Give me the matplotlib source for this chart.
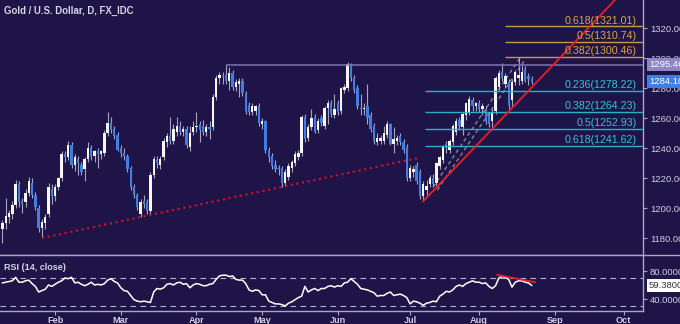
import numpy as np
import pandas as pd
import matplotlib
matplotlib.use("Agg")
import matplotlib.pyplot as plt
from matplotlib.lines import Line2D

plt.rcParams["font.family"] = ["Liberation Sans", "DejaVu Sans"]

# XAU/USD daily candles, one per weekday from 10 Jan 2017
opens = [1186, 1190, 1194, 1196, 1202, 1216, 1205, 1204, 1210, 1217, 1209, 1200, 1187, 1190, 1196, 1213,
         1208, 1214, 1220, 1236, 1234, 1242, 1229, 1233, 1229, 1226, 1233, 1240, 1235, 1238, 1236, 1237,
         1250, 1257, 1253, 1249, 1240, 1237, 1235, 1227, 1214, 1209, 1196, 1205, 1204, 1198, 1222, 1232,
         1229, 1234, 1244, 1248, 1245, 1251, 1255, 1251, 1253, 1241, 1251, 1254, 1256, 1255, 1251, 1254,
         1254, 1274, 1287, 1289, 1289, 1285, 1290, 1281, 1283, 1285, 1277, 1269, 1264, 1265, 1268, 1256,
         1258, 1239, 1235, 1229, 1227, 1227, 1217, 1221, 1227, 1230, 1234, 1237, 1261, 1247, 1254, 1261,
         1252, 1260, 1255, 1267, 1270, 1262, 1270, 1265, 1279, 1280, 1295, 1287, 1280, 1267, 1266, 1268,
         1262, 1255, 1244, 1245, 1245, 1249, 1256, 1243, 1245, 1248, 1244, 1241, 1220, 1224, 1229, 1224,
         1208, 1212, 1216, 1220, 1217, 1228, 1232, 1243, 1239, 1244, 1251, 1259, 1254, 1262, 1264, 1272,
         1268, 1270, 1266, 1266, 1262, 1258, 1265, 1281, 1291, 1283, 1284, 1272, 1284, 1287, 1285, 1293,
         1288, 1286]
highs = [1192, 1207, 1199, 1205, 1219, 1218, 1207, 1213, 1221, 1220, 1211, 1202, 1193, 1196, 1217, 1216,
         1216, 1221, 1238, 1238, 1245, 1244, 1236, 1235, 1231, 1234, 1244, 1242, 1239, 1240, 1239, 1252,
         1264, 1261, 1255, 1251, 1242, 1240, 1236, 1228, 1216, 1210, 1206, 1209, 1206, 1224, 1235, 1235,
         1235, 1247, 1250, 1261, 1256, 1261, 1258, 1255, 1255, 1255, 1258, 1264, 1258, 1259, 1256, 1258,
         1276, 1289, 1291, 1291, 1295.5, 1294, 1292, 1286, 1287, 1287, 1278, 1271, 1270, 1269, 1270, 1260,
         1259, 1241, 1237, 1232, 1229, 1228, 1226, 1230, 1232, 1238, 1239, 1262, 1263, 1256, 1266, 1263,
         1260, 1262, 1268, 1272, 1272, 1276, 1272, 1281, 1283, 1297.5, 1297, 1289, 1282, 1276, 1270, 1283,
         1264, 1257, 1250, 1249, 1255, 1258, 1257, 1254, 1249, 1250, 1246, 1243, 1229, 1228, 1231, 1226,
         1218, 1219, 1222, 1223, 1231, 1235, 1242, 1245, 1246, 1256, 1260, 1261, 1264, 1271, 1275, 1274,
         1271, 1272, 1270, 1268, 1264, 1266, 1288, 1292, 1297, 1290, 1286, 1286, 1292, 1300.46, 1296, 1295,
         1290, 1288]
lows = [1177, 1186, 1190, 1193, 1200, 1201, 1197, 1201, 1208, 1207, 1199, 1184, 1180, 1186, 1194, 1203,
        1205, 1212, 1218, 1231, 1232, 1227, 1225, 1222, 1222, 1218, 1231, 1232, 1231, 1227, 1233, 1235,
        1248, 1250, 1246, 1238, 1234, 1232, 1224, 1212, 1207, 1199, 1194, 1200, 1196, 1196, 1220, 1227,
        1226, 1232, 1241, 1243, 1243, 1248, 1249, 1248, 1240, 1238, 1249, 1251, 1244, 1249, 1248, 1246,
        1252, 1272, 1283, 1283, 1283, 1279, 1279, 1278, 1274, 1275, 1263, 1262, 1262, 1262, 1255, 1253,
        1237, 1231, 1226, 1224, 1222, 1214, 1215, 1219, 1224, 1228, 1232, 1235, 1244, 1245, 1252, 1250,
        1250, 1255, 1253, 1256, 1261, 1260, 1262, 1263, 1277, 1278, 1285, 1277, 1266, 1262, 1262, 1256,
        1251, 1243, 1242, 1243, 1243, 1247, 1242, 1237, 1242, 1242, 1237, 1218, 1218, 1221, 1216, 1206,
        1204.5, 1209, 1214, 1214, 1215, 1226, 1230, 1237, 1237, 1242, 1249, 1252, 1249, 1259, 1262, 1265,
        1265, 1264, 1262, 1256, 1254, 1252, 1263, 1279, 1285, 1280, 1266, 1268, 1282, 1282, 1283, 1284,
        1282, 1283]
closes = [1190, 1195, 1197, 1202, 1216, 1204, 1203, 1210, 1218, 1209, 1201, 1187, 1191, 1194, 1214, 1208,
          1214, 1220, 1236, 1234, 1242, 1229, 1234, 1230, 1224, 1233, 1240, 1234, 1238, 1236, 1238, 1250,
          1257, 1252, 1248, 1239, 1237, 1235, 1226, 1214, 1209, 1201, 1204, 1203, 1198, 1222, 1233, 1230,
          1233, 1245, 1248, 1245, 1253, 1255, 1251, 1253, 1242, 1250, 1254, 1255, 1252, 1251, 1254, 1253,
          1274, 1287, 1289, 1288, 1285, 1290, 1281, 1284, 1285, 1277, 1265, 1264, 1268, 1268, 1257, 1258,
          1239, 1234, 1228, 1226, 1226, 1217, 1224, 1228, 1231, 1236, 1237, 1261, 1246, 1254, 1260, 1251,
          1258, 1257, 1267, 1270, 1263, 1266, 1264, 1280, 1281, 1296, 1287, 1279, 1268, 1266, 1267, 1260,
          1253, 1245, 1247, 1247, 1250, 1256, 1243, 1246, 1247, 1244, 1239, 1220, 1227, 1226, 1218, 1208,
          1216, 1215, 1220, 1216, 1230, 1234, 1241, 1240, 1245, 1255, 1258, 1255, 1263, 1270, 1273, 1268,
          1270, 1266, 1268, 1258, 1256, 1264, 1287, 1290, 1287, 1288, 1269, 1284, 1291, 1289, 1291, 1285,
          1286, 1284.10]

# RSI(14) values per bar
rsi = [63, 64, 65, 66, 71, 64, 64, 66, 67, 62, 58, 50, 52, 54, 60, 58,
       61, 64, 66, 70, 69, 71, 63, 64, 61, 59, 61, 64, 60, 61, 60, 62,
       67, 69, 65, 63, 56, 52, 51, 45, 39, 37, 36, 37, 36, 35, 50, 55,
       54, 56, 61, 62, 60, 63, 64, 61, 62, 56, 60, 62, 61, 59, 59, 61,
       62, 68, 73, 74, 74, 72, 73, 68, 67, 67, 62, 53, 51, 53, 52, 46,
       46, 37, 35, 33, 33, 32, 30, 34, 36, 39, 42, 44, 58, 50, 53, 55,
       52, 55, 55, 58, 59, 57, 59, 58, 63, 64, 69, 65, 61, 55, 54, 53,
       51, 49, 44, 45, 45, 48, 50, 45, 46, 47, 45, 42, 33, 37, 36, 34,
       31, 34, 35, 37, 36, 44, 47, 51, 50, 53, 58, 60, 58, 62, 64, 66,
       64, 64, 62, 63, 58, 55, 59, 70, 72, 71, 68, 57, 64, 66, 66, 64,
       63, 59.38]

fib_up_ratios = ["0.382", "0.5", "0.618"]
fib_up_levels = [1300.46, 1310.74, 1321.01]
fib_dn_ratios = ["0.236", "0.382", "0.5", "0.618"]
fib_dn_levels = [1278.22, 1264.23, 1252.93, 1241.62]
resistance = 1295.46
price_ticks = [1180, 1200, 1220, 1240, 1260, 1280, 1300, 1320]
rsi_ticks = [40, 80]

# trend lines as (bar, value) anchor pairs
dotted_support = [(12, 1180.0), (126.4, 1233.3)]
rising_support = [(128, 1204.5), (190, 1347.1)]
channel_a = [(131.0, 1214.0), (157.4, 1300.0)]
channel_b = [(132.3, 1212.0), (158.7, 1298.0)]
rsi_trend = [(150.5, 74.5), (162.0, 64.0)]

BG = "#1f1447"
AXIS = "#a9a8c4"
TXT = "#cfcfe0"
WICK = "#a6a5c0"
UP = "#f6f6fb"
DOWN = "#3f7fe4"
GOLD_LINE = "#c99a3c"
GOLD_TXT = "#dca83e"
CYAN_LINE = "#23b4c8"
CYAN_TXT = "#2ec6da"
RED = "#ee1c25"

W, H = 680, 324
fig = plt.figure(figsize=(W / 100, H / 100), dpi=100, facecolor=BG)
ax = fig.add_axes([0, 1 - 255 / H, 643 / W, 255 / H], facecolor=BG)
ax_rsi = fig.add_axes([0, 1 - 311 / H, 643 / W, 56 / H], facecolor=BG, sharex=ax)

n = len(closes)
x = np.arange(n)
o, h, l, c = (np.array(v, dtype=float) for v in (opens, highs, lows, closes))
up = c >= o

ax.vlines(x, l, h, color=WICK, lw=0.8, zorder=2)
body_lo = np.minimum(o, c)
body_h = np.maximum(np.abs(c - o), 0.8)
ax.bar(x, body_h, bottom=body_lo, width=0.72, color=np.where(up, UP, DOWN),
       linewidth=0, zorder=3)

x_right = 194.86
ax.set_xlim(-0.76, x_right)
ax.set_ylim(1168.67, 1338.67)

# fibonacci levels
lab_x = 193.0
for r, v in zip(fib_up_ratios, fib_up_levels):
    ax.hlines(v, 152.9, x_right, color=GOLD_LINE, lw=1.0, zorder=4)
    ax.text(lab_x, v + 0.6, f"{r}({v:.2f})", color=GOLD_TXT, fontsize=7.7,
            ha="right", va="bottom", zorder=6)
for r, v in zip(fib_dn_ratios, fib_dn_levels):
    ax.hlines(v, 128.5, x_right, color=CYAN_LINE, lw=1.0, zorder=4)
    ax.text(lab_x, v + 0.6, f"{r}({v:.2f})", color=CYAN_TXT, fontsize=7.7,
            ha="right", va="bottom", zorder=6)

ax.hlines(resistance, 68, x_right, color="#7c73b2", lw=1.1, zorder=4)

(x0, y0), (x1, y1) = dotted_support
ax.plot([x0, x1], [y0, y1], color="#c8102a", lw=1.6, ls=(0, (1, 1.6)), zorder=5)
(x0, y0), (x1, y1) = rising_support
ax.plot([x0, x1], [y0, y1], color=RED, lw=1.3, zorder=5)
for seg in (channel_a, channel_b):
    (x0, y0), (x1, y1) = seg
    ax.plot([x0, x1], [y0, y1], color="#8f8ea8", lw=0.9, ls=(0, (3, 2.5)), zorder=1)

ax.yaxis.tick_right()
ax.set_yticks(price_ticks)
ax.set_yticklabels([f"{v:.2f}" for v in price_ticks])
ax.tick_params(axis="y", colors=AXIS, labelcolor=TXT, labelsize=6.8, length=3, width=0.8, pad=2)
ax.tick_params(axis="x", bottom=False, labelbottom=False)
for s in ("left", "top"):
    ax.spines[s].set_visible(False)
for s in ("right", "bottom"):
    ax.spines[s].set_color(AXIS)
    ax.spines[s].set_linewidth(1.0)


def tag(axis, y, text, face, fg):
    axis.annotate(text, xy=(1, y), xycoords=axis.get_yaxis_transform(),
                  xytext=(4.3, 0), textcoords="offset points", ha="left", va="center",
                  fontsize=6.8, color=fg, zorder=10, annotation_clip=False,
                  bbox=dict(boxstyle="square,pad=0.22", fc=face, ec="none"))


tag(ax, resistance, f"{resistance:.2f}", "#8e86c6", "#ffffff")
tag(ax, closes[-1], f"{closes[-1]:.2f}", "#3d7fe6", "#ffffff")

ax.text(0.006, 0.957, "Gold / U.S. Dollar, D, FX_IDC", transform=ax.transAxes,
        color="#d6d6e6", fontsize=6.9, fontweight="bold", ha="left", va="center")

# RSI panel
ax_rsi.plot(x, rsi, color="#ffffff", lw=1.1, zorder=3)
for lvl in (70, 30):
    ax_rsi.axhline(lvl, color="#b4b3cc", lw=0.8, ls=(0, (5, 4)), zorder=2)
(x0, y0), (x1, y1) = rsi_trend
ax_rsi.plot([x0, x1], [y0, y1], color=RED, lw=1.3, zorder=4)
ax_rsi.set_ylim(22.86, 102.86)
ax_rsi.yaxis.tick_right()
ax_rsi.set_yticks(rsi_ticks)
ax_rsi.set_yticklabels([f"{v:.4f}" for v in rsi_ticks])
ax_rsi.tick_params(axis="y", colors=AXIS, labelcolor=TXT, labelsize=6.8, length=3, width=0.8, pad=2)
tag(ax_rsi, rsi[-1], f"{rsi[-1]:.4f}", "#ffffff", "#333344")
ax_rsi.text(0.006, 0.78, "RSI (14, close)", transform=ax_rsi.transAxes,
            color="#d6d6e6", fontsize=6.5, fontweight="bold", ha="left", va="center")

cal = pd.bdate_range("2017-01-10", "2017-10-31")
month_pos = [i for i in range(1, len(cal)) if cal[i].month != cal[i - 1].month]
month_lab = [cal[i].strftime("%b") for i in month_pos]
ax_rsi.set_xticks(month_pos)
ax_rsi.set_xticklabels(month_lab)
ax_rsi.tick_params(axis="x", colors=AXIS, labelcolor=TXT, labelsize=6.6, length=3, width=0.8, pad=0.5)
for t in ax_rsi.get_xticklabels():
    t.set_fontweight("bold")
for s in ("left", "top"):
    ax_rsi.spines[s].set_visible(False)
for s in ("right", "bottom"):
    ax_rsi.spines[s].set_color(AXIS)
    ax_rsi.spines[s].set_linewidth(1.0)

# panel separator runs across the full width
fig.add_artist(Line2D([0, 1], [1 - 255 / H] * 2, transform=fig.transFigure,
                      color=AXIS, lw=1.0))

fig.savefig("out.png", dpi=100, facecolor=BG)
